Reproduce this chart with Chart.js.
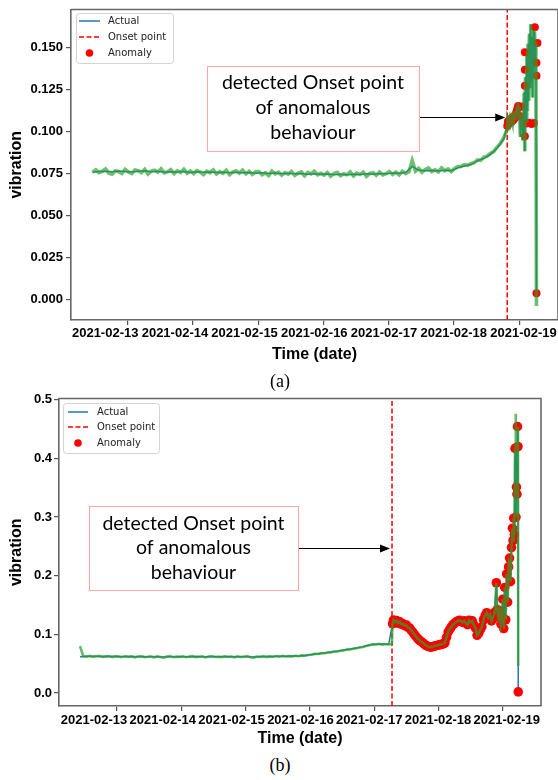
<!DOCTYPE html>
<html><head><meta charset="utf-8">
<script src="https://cdn.jsdelivr.net/npm/chart.js@4.4.1/dist/chart.umd.min.js"></script>
<style>
html,body{margin:0;padding:0;background:#fff;overflow:hidden;width:558px;height:780px;}
#ca{position:absolute;left:0;top:0;width:562px;height:372px;}
#cb{position:absolute;left:0;top:390px;width:558px;height:365px;}
.cap{position:absolute;font-family:"Liberation Serif","Times New Roman",serif;font-size:18px;color:#000;width:60px;text-align:center;line-height:20px;}
</style></head>
<body>
<canvas id="ca" width="562" height="372"></canvas>
<canvas id="cb" width="558" height="365"></canvas>
<div class="cap" style="left:250px;top:371px;">(a)</div>
<div class="cap" style="left:250px;top:755px;">(b)</div>
<script>
// ---------- shared axis text ----------
const xTickDays = [1, 2, 3, 4, 5, 6, 7]; // tick marks: days after 2021-02-12
const xTickLabels = ['2021-02-13','2021-02-14','2021-02-15','2021-02-16','2021-02-17','2021-02-18','2021-02-19'];
const xTitle = 'Time (date)';
const yTitle = 'vibration';
const legendLabels = ['Actual', 'Onset point', 'Anomaly'];
const annotLines = ['detected Onset point', 'of anomalous', 'behaviour'];

// ---------- chart (a) ----------
const yTicksA = [0, 0.025, 0.05, 0.075, 0.1, 0.125, 0.15];
const yTickLabelsA = ['0.000','0.025','0.050','0.075','0.100','0.125','0.150'];
const onsetA = 6.817;
const greenStartA = 0.46, greenStepA = 0.05;
const greenA = [
0.0754,0.0770,0.0753,0.0761,0.0775,0.0750,0.0744,0.0764,0.0759,0.0748,
0.0773,0.0757,0.0748,0.0769,0.0764,0.0753,0.0773,0.0745,0.0762,0.0768,
0.0756,0.0776,0.0751,0.0758,0.0771,0.0747,0.0765,0.0754,0.0774,0.0749,
0.0763,0.0747,0.0765,0.0757,0.0742,0.0762,0.0752,0.0770,0.0745,0.0759,
0.0749,0.0767,0.0741,0.0756,0.0764,0.0750,0.0768,0.0746,0.0761,0.0743,
0.0758,0.0759,0.0741,0.0752,0.0735,0.0762,0.0746,0.0756,0.0738,0.0753,
0.0744,0.0760,0.0737,0.0750,0.0757,0.0734,0.0754,0.0745,0.0761,0.0740,
0.0749,0.0738,0.0754,0.0732,0.0748,0.0755,0.0735,0.0746,0.0740,0.0758,
0.0734,0.0750,0.0742,0.0756,0.0731,0.0749,0.0753,0.0737,0.0757,0.0739,
0.0747,0.0760,0.0742,0.0756,0.0739,0.0762,0.0747,0.0758,0.0825,0.0762,
0.0779,0.0756,0.0772,0.0781,0.0760,0.0770,0.0758,0.0782,0.0764,0.0775,
0.0759,0.0778,0.0789,0.0790,0.0801,0.0797,0.0806,0.0812,0.0829,0.0826,
0.0845,0.0851,0.0868,0.0878,0.0905,0.0925,0.0958,0.1005];
const actualStartA = 0.46, actualStepA = 0.1;
const actualA = [
0.0755,0.0760,0.0762,0.0758,0.0763,0.0760,
0.0757,0.0762,0.0764,0.0758,0.0761,0.0755,0.0759,0.0757,0.0760,0.0754,
0.0758,0.0755,0.0757,0.0754,0.0756,0.0752,0.0755,0.0752,0.0754,0.0750,
0.0752,0.0748,0.0751,0.0747,0.0749,0.0746,0.0748,0.0744,0.0746,0.0743,
0.0745,0.0741,0.0744,0.0740,0.0743,0.0742,0.0746,0.0744,0.0748,0.0747,
0.0751,0.0749,0.0754,0.0790,0.0767,0.0764,0.0766,0.0763,0.0767,0.0765,
0.0782,0.0792,0.0801,0.0824,0.0838,0.0862,0.0898,0.0950];
const spikeA = [
[6.817,0.1030],[6.828,0.1058],[6.840,0.1042],[6.852,0.1068],[6.864,0.1050],[6.876,0.1074],
[6.888,0.1058],[6.900,0.1082],[6.912,0.1066],[6.924,0.1090],[6.936,0.1078],[6.948,0.1102],
[6.960,0.1118],[6.972,0.1135],[6.984,0.1150],[6.996,0.1140],[7.008,0.1090],[7.018,0.0965],
[7.028,0.1080],[7.036,0.1005],[7.046,0.1105],[7.056,0.0945],[7.066,0.1065],[7.076,0.1230],
[7.086,0.0880],[7.096,0.1320],[7.106,0.1060],[7.116,0.1450],[7.126,0.1120],[7.136,0.1520],
[7.146,0.1180],[7.156,0.1580],[7.166,0.1260],[7.176,0.1636],[7.186,0.1300],[7.196,0.1560],
[7.206,0.1200],[7.216,0.1600],[7.226,0.1350],[7.236,0.1590],[7.246,0.1420],[7.256,0.1530]];
const actualTailA = [[7.265,0.0035]];
const greenTailA = [[7.265,-0.0040]];
const anomalyA = [
[6.817,0.1030],[6.828,0.1058],[6.840,0.1042],[6.852,0.1068],[6.864,0.1050],[6.876,0.1074],
[6.888,0.1058],[6.900,0.1082],[6.912,0.1066],[6.924,0.1090],[6.936,0.1078],[6.948,0.1102],
[6.960,0.1118],[6.972,0.1135],[6.984,0.1150],[6.996,0.1140],[7.008,0.1090],[7.035,0.1146],
[7.087,0.0969],[7.087,0.1270],[7.087,0.1366],[7.087,0.1470],[7.110,0.1045],[7.150,0.1050],
[7.190,0.1042],[7.225,0.1048],[7.240,0.1618],[7.265,0.1407],[7.265,0.1329],[7.280,0.1525],
[7.265,0.0035]];

// ---------- chart (b) ----------
const yTicksB = [0, 0.1, 0.2, 0.3, 0.4, 0.5];
const yTickLabelsB = ['0.0','0.1','0.2','0.3','0.4','0.5'];
const onsetB = 5.277;
const greenStartB = 0.425, greenStepB = 0.05;
const greenB = [
0.0800,0.0628,0.0621,0.0633,0.0618,0.0627,0.0636,0.0615,0.0624,0.0630,
0.0613,0.0629,0.0622,0.0611,0.0631,0.0617,0.0626,0.0609,0.0623,0.0632,
0.0614,0.0620,0.0628,0.0610,0.0625,0.0616,0.0603,0.0624,0.0630,0.0612,
0.0621,0.0617,0.0627,0.0611,0.0622,0.0630,0.0613,0.0619,0.0626,0.0608,
0.0623,0.0631,0.0615,0.0620,0.0612,0.0628,0.0618,0.0624,0.0609,0.0627,
0.0616,0.0622,0.0630,0.0611,0.0605,0.0624,0.0618,0.0629,0.0614,0.0625,
0.0620,0.0631,0.0621,0.0634,0.0624,0.0630,0.0625,0.0637,0.0629,0.0642,
0.0638,0.0650,0.0654,0.0668,0.0666,0.0680,0.0679,0.0692,0.0694,0.0708,
0.0709,0.0722,0.0727,0.0741,0.0744,0.0757,0.0765,0.0777,0.0787,0.0801,
0.0816,0.0831,0.0828,0.0839,0.0826,0.0837,0.0829,0.0836];
const actualStartB = 0.425, actualStepB = 0.1;
const actualB = [
0.0620,0.0626,0.0628,0.0625,0.0627,0.0623,
0.0625,0.0621,0.0623,0.0619,0.0621,0.0618,0.0620,0.0616,0.0619,0.0618,
0.0621,0.0619,0.0622,0.0618,0.0621,0.0620,0.0622,0.0619,0.0621,0.0619,
0.0621,0.0617,0.0620,0.0622,0.0623,0.0626,0.0628,0.0630,0.0633,0.0641,
0.0659,0.0672,0.0685,0.0700,0.0714,0.0733,0.0750,0.0770,0.0792,0.0820,
0.0833,0.0831,0.0832];
const spikeB = [
[5.285,0.1180],[5.300,0.1245],[5.325,0.1210],[5.350,0.1235],[5.375,0.1190],[5.400,0.1215],
[5.425,0.1170],[5.450,0.1180],[5.475,0.1150],[5.500,0.1160],[5.525,0.1120],[5.550,0.1110],
[5.575,0.1070],[5.600,0.1040],[5.625,0.0995],[5.650,0.0965],[5.675,0.0930],[5.700,0.0905],
[5.725,0.0880],[5.750,0.0860],[5.775,0.0838],[5.800,0.0815],[5.825,0.0800],[5.850,0.0790],
[5.875,0.0782],[5.900,0.0788],[5.925,0.0796],[5.950,0.0805],[5.975,0.0812],[6.000,0.0818],
[6.025,0.0826],[6.050,0.0832],[6.075,0.0840],[6.100,0.0858],[6.125,0.0950],[6.150,0.1040],
[6.175,0.1085],[6.200,0.1130],[6.225,0.1165],[6.250,0.1190],[6.275,0.1215],[6.300,0.1228],
[6.325,0.1240],[6.350,0.1225],[6.375,0.1205],[6.400,0.1230],[6.425,0.1195],[6.450,0.1165],
[6.475,0.1240],[6.500,0.1205],[6.525,0.1230],[6.550,0.1160],[6.575,0.1110],[6.600,0.0985],
[6.625,0.1020],[6.650,0.1080],[6.675,0.1130],[6.700,0.1250],[6.725,0.1320],[6.750,0.1370],
[6.775,0.1290],[6.800,0.1340],[6.825,0.1230],[6.850,0.1300],[6.875,0.1380],[6.900,0.1880],
[6.915,0.1420],[6.930,0.1290],[6.950,0.1400],[6.970,0.1180],[6.985,0.1300],[7.000,0.1600],
[7.015,0.1100],[7.030,0.1800],[7.045,0.1250],[7.060,0.2030],[7.075,0.1550],[7.090,0.2150],
[7.105,0.2300],[7.120,0.1900],[7.135,0.2480],[7.150,0.2810],[7.160,0.2600],[7.170,0.2980],
[7.180,0.2700],[7.190,0.4170],[7.205,0.3000],[7.212,0.3510],[7.220,0.3390],
[7.228,0.4540],[7.236,0.4200]];
const greenPeakB = [[7.198,0.4760]];
const actualTailB = [[7.240,0.0020]];
const greenTailB = [[7.240,0.0460]];

// ---------- helpers ----------
const FONT = '"Liberation Sans", Arial, Helvetica, sans-serif';
function series(start, step, values) {
  return values.map((v, i) => ({ x: Math.round((start + i * step) * 1000) / 1000, y: v }));
}
function pairs(arr) { return arr.map(p => ({ x: p[0], y: p[1] })); }
function byX(a, b) { return a.x - b.x; }

const framePlugin = {
  id: 'frame',
  afterDraw(chart) {
    const { ctx, chartArea: a } = chart;
    ctx.save();
    ctx.strokeStyle = '#666'; ctx.lineWidth = 1.6;
    ctx.beginPath(); ctx.moveTo(a.left, a.top); ctx.lineTo(a.right, a.top); ctx.lineTo(a.right, a.bottom); ctx.stroke();
    ctx.restore();
  }
};

function legendPlugin(L) {
  return {
    id: 'mlegend',
    afterDraw(chart) {
      const ctx = chart.ctx;
      ctx.save();
      ctx.beginPath();
      if (ctx.roundRect) ctx.roundRect(L.x + 0.5, L.y + 0.5, L.w, L.h, 3); else ctx.rect(L.x + 0.5, L.y + 0.5, L.w, L.h);
      ctx.fillStyle = 'rgba(255,255,255,0.85)'; ctx.fill();
      ctx.strokeStyle = '#d3d3d3'; ctx.lineWidth = 1; ctx.stroke();
      ctx.strokeStyle = '#1f77b4'; ctx.lineWidth = 1.5;
      ctx.beginPath(); ctx.moveTo(L.h1, L.rows[0]); ctx.lineTo(L.h2, L.rows[0]); ctx.stroke();
      ctx.strokeStyle = '#ff0000'; ctx.setLineDash([5, 2.5]);
      ctx.beginPath(); ctx.moveTo(L.h1, L.rows[1]); ctx.lineTo(L.h2, L.rows[1]); ctx.stroke();
      ctx.setLineDash([]);
      ctx.fillStyle = '#ff0000';
      ctx.beginPath(); ctx.arc(L.dot, L.rows[2], 3.8, 0, Math.PI * 2); ctx.fill();
      ctx.fillStyle = '#222'; ctx.font = '10px "DejaVu Sans"'; ctx.textBaseline = 'middle'; ctx.textAlign = 'left';
      legendLabels.forEach((s, i) => ctx.fillText(s, L.tx, L.rows[i]));
      ctx.restore();
    }
  };
}

function annotPlugin(A) {
  return {
    id: 'annot',
    afterDraw(chart) {
      const ctx = chart.ctx;
      ctx.save();
      ctx.strokeStyle = 'rgba(255,60,60,0.9)'; ctx.lineWidth = 1; ctx.setLineDash([1, 1]);
      ctx.strokeRect(A.x + 0.5, A.y + 0.5, A.w, A.h);
      ctx.setLineDash([]);
      ctx.fillStyle = '#000'; ctx.font = A.font; ctx.textAlign = 'center'; ctx.textBaseline = 'middle';
      annotLines.forEach((s, i) => ctx.fillText(s, A.x + A.w / 2, A.lines[i]));
      const tipX = chart.scales.x.getPixelForValue(A.onset) - 2;
      ctx.strokeStyle = '#000'; ctx.lineWidth = 1;
      ctx.beginPath(); ctx.moveTo(A.x + A.w + 1, A.ay + 0.5); ctx.lineTo(tipX - 8, A.ay + 0.5); ctx.stroke();
      ctx.fillStyle = '#000';
      ctx.beginPath(); ctx.moveTo(tipX, A.ay + 0.5); ctx.lineTo(tipX - 10, A.ay - 3.5); ctx.lineTo(tipX - 10, A.ay + 4.5); ctx.closePath(); ctx.fill();
      ctx.restore();
    }
  };
}

function buildChart(id, o) {
  return new Chart(document.getElementById(id), {
    type: 'scatter',
    data: {
      datasets: [
        { label: legendLabels[1], data: [{ x: o.onset, y: o.yMin }, { x: o.onset, y: o.yMax }], showLine: true,
          borderColor: '#ff0000', borderWidth: 1.5, borderDash: [5, 2.5], pointRadius: 0, order: 3 },
        { label: legendLabels[0], data: o.actual, showLine: true, borderColor: '#1f77b4', borderWidth: 1.5,
          pointRadius: 0, order: 2 },
        { label: legendLabels[2], data: o.anomaly, showLine: false, backgroundColor: '#ff0000', borderWidth: 0,
          pointRadius: o.dotR, order: 1 },
        { label: 'signal', data: o.green, showLine: true, borderColor: o.greenC, borderWidth: o.greenW,
          pointRadius: 0, order: 0 }
      ]
    },
    options: {
      responsive: false, animation: false, devicePixelRatio: 1, events: [],
      layout: { padding: { left: 0, top: o.padTop, right: o.padRight, bottom: 0 } },
      plugins: { legend: { display: false }, tooltip: { enabled: false } },
      scales: {
        x: {
          type: 'linear', position: 'bottom', weight: 0, min: o.xMin, max: o.xMax,
          afterBuildTicks: s => { s.ticks = xTickDays.map(v => ({ value: v })); },
          afterFit: s => { s.height = 5; },
          ticks: { display: true, autoSkip: false, maxRotation: 0, callback: () => '' },
          grid: { display: true, drawOnChartArea: false, drawTicks: true, tickLength: 5, color: '#555', lineWidth: 1.2 },
          border: { display: true, color: '#666', width: 1.6 }
        },
        xl: {
          type: 'linear', position: 'bottom', weight: 1, min: o.xMin, max: o.xMax,
          afterBuildTicks: s => { s.ticks = o.xLabelPos.map(v => ({ value: v })); },
          afterFit: s => { s.height = o.xAxisH - 5; },
          ticks: { autoSkip: false, maxRotation: 0, minRotation: 0, padding: o.xTickPad, color: '#000',
            font: { family: FONT, size: 13, weight: 'bold' }, callback: (v, i) => xTickLabels[i] },
          grid: { display: false, drawTicks: false, tickLength: 0 },
          border: { display: false },
          title: { display: true, text: xTitle, color: '#000', font: { family: FONT, size: 16, weight: 'bold' },
            padding: { top: 0, bottom: o.xTitlePad } }
        },
        y: {
          type: 'linear', min: o.yMin, max: o.yMax,
          afterBuildTicks: s => { s.ticks = o.yTicks.map(v => ({ value: v })); },
          afterFit: s => { s.width = o.yAxisW; },
          ticks: { autoSkip: false, padding: o.yTickPad, color: '#000',
            font: { family: FONT, size: 13, weight: 'bold', lineHeight: 1 }, callback: (v, i) => o.yTickLabels[i] },
          grid: { display: true, drawOnChartArea: false, drawTicks: true, tickLength: 5, color: '#555', lineWidth: 1.2 },
          border: { display: true, color: '#666', width: 1.6 },
          title: { display: true, text: yTitle, color: '#000', font: { family: FONT, size: 16, weight: 'bold' },
            padding: { top: 7.4, bottom: 0 } }
        }
      }
    },
    plugins: [framePlugin, legendPlugin(o.legend), annotPlugin(o.annot)]
  });
}

const actualPtsA = series(actualStartA, actualStepA, actualA).concat(pairs(spikeA), pairs(actualTailA));
const greenPtsA = series(greenStartA, greenStepA, greenA).concat(pairs(spikeA), pairs(greenTailA));
const actualPtsB = series(actualStartB, actualStepB, actualB).concat(pairs(spikeB), pairs(actualTailB));
const greenPtsB = series(greenStartB, greenStepB, greenB).concat(pairs(spikeB), pairs(greenPeakB), pairs(greenTailB)).sort(byX);
const anomalyPtsB = actualPtsB.filter(p => p.x > onsetB);

buildChart('ca', {
  onset: onsetA, yMin: -0.0124, yMax: 0.1724, xMin: 0.13, xMax: 7.595,
  yTicks: yTicksA, yTickLabels: yTickLabelsA,
  xLabelPos: [0.654, 1.723, 2.791, 3.860, 4.929, 5.998, 7.066],
  actual: actualPtsA, green: greenPtsA, anomaly: pairs(anomalyA), dotR: 4, greenW: 3.6, greenC: 'rgba(44,160,44,0.68)',
  padTop: 7, padRight: 2, xAxisH: 52, yAxisW: 71, xTitlePad: 7.4, yTickPad: 3, xTickPad: 1,
  legend: { x: 76, y: 13, w: 97, h: 50, h1: 79, h2: 100, tx: 108, dot: 89.5, rows: [21, 37, 53] },
  annot: { x: 207, y: 66, w: 212, h: 85, lines: [83, 108, 133], ay: 117, onset: onsetA, font: '19.5px Lato, "Open Sans", sans-serif' }
});
buildChart('cb', {
  onset: onsetB, yMin: -0.022, yMax: 0.502, xMin: 0.098, xMax: 7.594,
  yTicks: yTicksB, yTickLabels: yTickLabelsB,
  xLabelPos: [0.642, 1.712, 2.782, 3.852, 4.922, 5.992, 7.062],
  actual: actualPtsB, green: greenPtsB, anomaly: anomalyPtsB, dotR: 4.8, greenW: 2.6, greenC: 'rgba(44,160,44,0.72)',
  padTop: 7, padRight: 17, xAxisH: 49, yAxisW: 59, xTitlePad: 6.4, yTickPad: 2, xTickPad: 2,
  legend: { x: 63, y: 13, w: 96, h: 50, h1: 68, h2: 88, tx: 97, dot: 78, rows: [22, 37, 53] },
  annot: { x: 89, y: 116, w: 209, h: 84, lines: [134, 158, 183], ay: 158, onset: onsetB, font: '19.5px Lato, "Open Sans", sans-serif' }
});
</script>
</body></html>
